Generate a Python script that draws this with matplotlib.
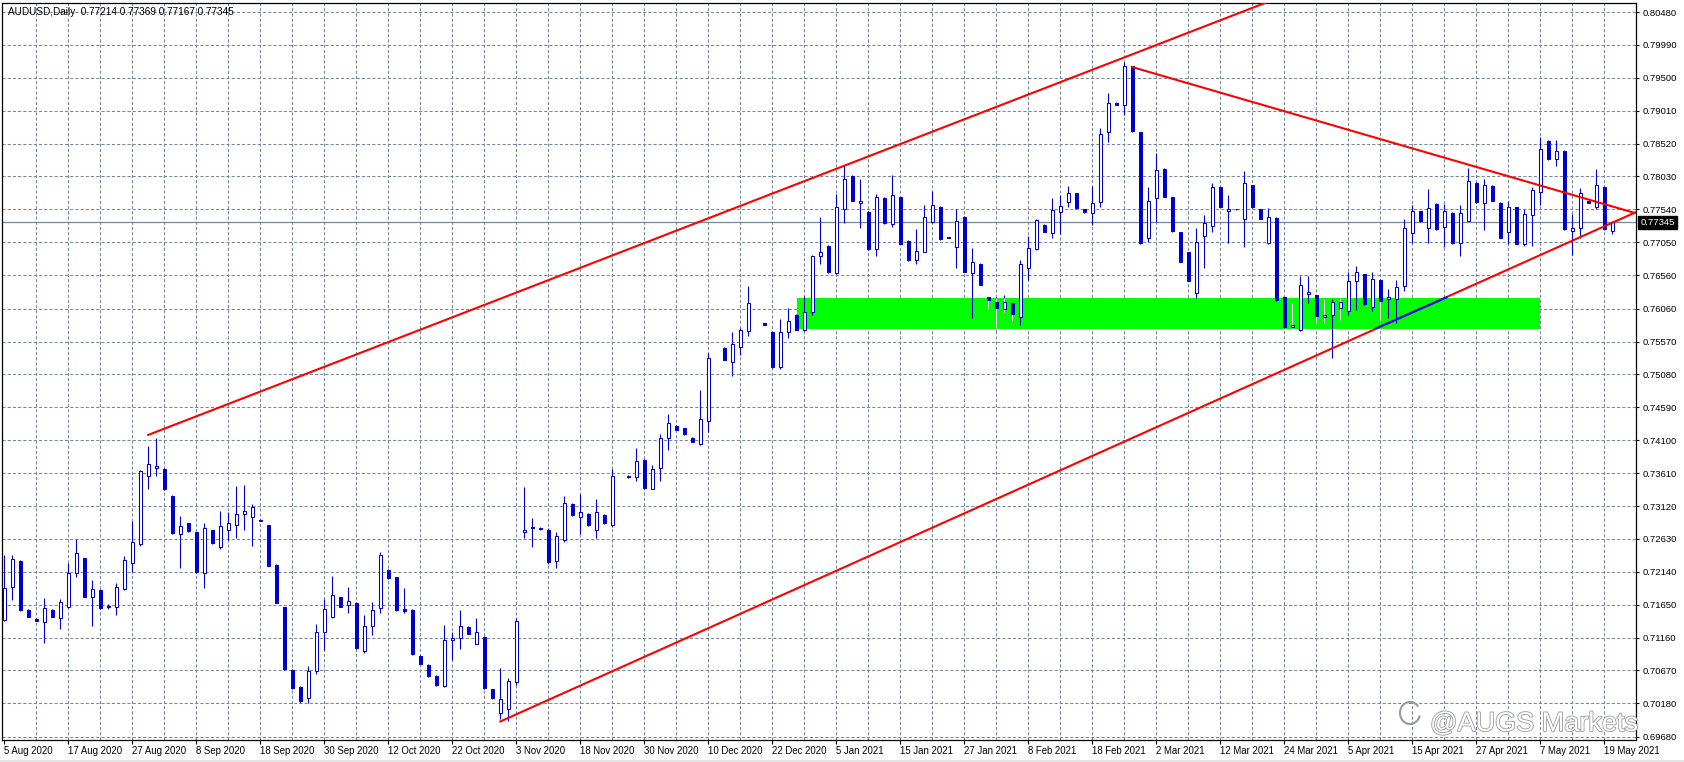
import matplotlib
matplotlib.use("Agg")
import matplotlib.pyplot as plt
import matplotlib.patheffects as pe
from matplotlib.patches import Rectangle, Arc
import numpy as np

# ==========================================
# Data: AUDUSD daily bars (index 0 = 5 Aug 2020), None = no visible bar
# ==========================================
opens = [0.7142, 0.7192, 0.7230, 0.7157, 0.7144, 0.7139, 0.7157, 0.7145, 0.7161, 0.7212,
         0.7234, 0.7177, 0.7187, 0.7161, 0.7162, 0.7189, 0.7227, 0.7256, 0.7357, 0.7368,
         0.7367, 0.7327, 0.7270, 0.7286, 0.7273, 0.7212, 0.7276, 0.7251, 0.7277, 0.7283,
         0.7300, 0.7295, 0.7291, 0.7283, 0.7224, 0.7161, 0.7068, 0.7043, 0.7026, 0.7066,
         0.7124, 0.7146, 0.7176, 0.7164, 0.7167, 0.7096, 0.7133, 0.7160, 0.7217, 0.7206,
         0.7159, 0.7157, 0.7089, 0.7075, 0.7059, 0.7044, 0.7112, 0.7115, 0.7132, 0.7107,
         0.7117, 0.7039, 0.7004, 0.7010, 0.7050, 0.7273, 0.7281, 0.7279, 0.7276, 0.7230,
         0.7261, 0.7315, 0.7295, 0.7300, 0.7276, 0.7299, 0.7284, None, 0.7357, 0.7356,
         0.7381, 0.7338, 0.7368, 0.7414, 0.7431, 0.7428, 0.7414, 0.7405, 0.7439, None,
         0.7548, 0.7527, 0.7549, 0.7573, None, 0.7584, 0.7571, 0.7519, 0.7571, 0.7597,
         0.7574, 0.7601, 0.7684, 0.7700, 0.7659, 0.7754, 0.7804, 0.7763, 0.7750, 0.7695,
         0.7771, 0.7732, 0.7772, 0.7707, 0.7678, 0.7691, 0.7735, 0.7758, 0.7713, 0.7698,
         0.7743, 0.7659, 0.7673, 0.7623, 0.7616, 0.7605, 0.7614, 0.7593, 0.7666, 0.7695,
         0.7731, 0.7719, 0.7750, 0.7765, 0.7778, 0.7754, 0.7748, 0.7765, 0.7869, 0.7913,
         0.7909, 0.7967, 0.7869, 0.7711, 0.7771, 0.7814, 0.7772, 0.7720, 0.7690, 0.7630,
         0.7715, 0.7729, 0.7787, 0.7751, 0.7754, 0.7739, 0.7790, 0.7754, 0.7704, 0.7741,
         0.7623, 0.7579, 0.7574, 0.7628, 0.7626, 0.7594, 0.7596, 0.7607, 0.7603, 0.7647,
         0.7657, 0.7608, 0.7649, 0.7620, 0.7620, 0.7640, 0.7719, 0.7751, 0.7727, 0.7762,
         0.7728, 0.7749, 0.7704, 0.7737, 0.7794, 0.7763, 0.7789, 0.7764, 0.7720, 0.7757,
         0.7702, 0.7745, 0.7780, 0.7856, 0.7829, 0.7841, 0.7722, 0.7727, 0.7766, 0.7757,
         0.7787, 0.77214]
highs = [0.7239, 0.7239, 0.7232, 0.7158, 0.7145, 0.7175, 0.7158, 0.7173, 0.7227, 0.7263,
         0.7235, 0.7202, 0.7188, 0.7166, 0.7197, 0.7238, 0.7290, 0.7365, 0.7402, 0.7413,
         0.7368, 0.7328, 0.7297, 0.7287, 0.7274, 0.7286, 0.7277, 0.7305, 0.7303, 0.7342,
         0.7343, 0.7315, 0.7292, 0.7284, 0.7225, 0.7162, 0.7069, 0.7044, 0.7074, 0.7136,
         0.7173, 0.7208, 0.7177, 0.7191, 0.7168, 0.7150, 0.7169, 0.7243, 0.7218, 0.7207,
         0.7190, 0.7158, 0.7090, 0.7076, 0.7060, 0.7135, 0.7124, 0.7157, 0.7133, 0.7145,
         0.7118, 0.7040, 0.7071, 0.7056, 0.7145, 0.7341, 0.7294, 0.7281, 0.7280, 0.7274,
         0.7327, 0.7316, 0.7330, 0.7301, 0.7323, 0.7300, 0.7367, None, 0.7358, 0.7399,
         0.7382, 0.7373, 0.7419, 0.7449, 0.7432, 0.7429, 0.7415, 0.7485, 0.7540, None,
         0.7549, 0.7572, 0.7578, 0.7640, None, 0.7585, 0.7572, 0.7590, 0.7607, 0.7598,
         0.7625, 0.7686, 0.7743, 0.7701, 0.7777, 0.7820, 0.7805, 0.7799, 0.7751, 0.7777,
         0.7772, 0.7805, 0.7773, 0.7708, 0.7725, 0.7761, 0.7781, 0.7759, 0.7713, 0.7754,
         0.7744, 0.7697, 0.7674, 0.7624, 0.7624, 0.7626, 0.7615, 0.7679, 0.7714, 0.7740,
         0.7732, 0.7771, 0.7775, 0.7789, 0.7779, 0.7755, 0.7789, 0.7876, 0.7928, 0.7914,
         0.7974, 0.7968, 0.7870, 0.7788, 0.7838, 0.7815, 0.7773, 0.7721, 0.7691, 0.7726,
         0.7746, 0.7793, 0.7788, 0.7775, 0.7755, 0.7811, 0.7791, 0.7755, 0.7756, 0.7742,
         0.7624, 0.7615, 0.7655, 0.7655, 0.7627, 0.7621, 0.7620, 0.7622, 0.7660, 0.7669,
         0.7658, 0.7660, 0.7650, 0.7635, 0.7649, 0.7739, 0.7761, 0.7752, 0.7784, 0.7763,
         0.7762, 0.7750, 0.7761, 0.7815, 0.7795, 0.7800, 0.7790, 0.7765, 0.7766, 0.7758,
         0.7755, 0.7787, 0.7862, 0.7857, 0.7857, 0.7842, 0.7747, 0.7786, 0.7767, 0.7814,
         0.7788, 0.77369]
lows = [0.7140, 0.7172, 0.7155, 0.7146, 0.7140, 0.7108, 0.7146, 0.7129, 0.7160, 0.7207,
        0.7176, 0.7134, 0.7159, 0.7159, 0.7149, 0.7187, 0.7214, 0.7253, 0.7337, 0.7357,
        0.7336, 0.7271, 0.7220, 0.7274, 0.7212, 0.7190, 0.7256, 0.7248, 0.7262, 0.7265,
        0.7276, 0.7253, 0.7289, 0.7222, 0.7167, 0.7068, 0.7040, 0.7018, 0.7018, 0.7062,
        0.7098, 0.7145, 0.7161, 0.7153, 0.7099, 0.7093, 0.7120, 0.7152, 0.7204, 0.7156,
        0.7152, 0.7090, 0.7076, 0.7058, 0.7044, 0.7043, 0.7083, 0.7099, 0.7121, 0.7106,
        0.7040, 0.7025, 0.6995, 0.6991, 0.7045, 0.7265, 0.7251, 0.7277, 0.7225, 0.7220,
        0.7258, 0.7297, 0.7270, 0.7282, 0.7265, 0.7285, 0.7281, None, 0.7354, 0.7350,
        0.7338, 0.7337, 0.7350, 0.7396, 0.7425, 0.7418, 0.7407, 0.7403, 0.7423, None,
        0.7529, 0.7506, 0.7537, 0.7566, None, 0.7581, 0.7518, 0.7516, 0.7563, 0.7574,
        0.7573, 0.7596, 0.7673, 0.7659, 0.7658, 0.7733, 0.7766, 0.7727, 0.7694, 0.7685,
        0.7732, 0.7728, 0.7702, 0.7677, 0.7672, 0.7690, 0.7734, 0.7709, 0.7711, 0.7667,
        0.7660, 0.7592, 0.7641, 0.7605, 0.7575, 0.7599, 0.7587, 0.7582, 0.7649, 0.7694,
        0.7720, 0.7712, 0.7717, 0.7758, 0.7755, 0.7749, 0.7730, 0.7757, 0.7855, 0.7909,
        0.7895, 0.7870, 0.7703, 0.7706, 0.7735, 0.7772, 0.7721, 0.7675, 0.7647, 0.7622,
        0.7667, 0.7721, 0.7757, 0.7704, 0.7753, 0.7698, 0.7756, 0.7739, 0.7703, 0.7618,
        0.7578, 0.7577, 0.7573, 0.7614, 0.7584, 0.7584, 0.7532, 0.7589, 0.7597, 0.7604,
        0.7612, 0.7602, 0.7587, 0.7592, 0.7584, 0.7633, 0.7704, 0.7735, 0.7704, 0.7724,
        0.7698, 0.7703, 0.7684, 0.7736, 0.7764, 0.7723, 0.7766, 0.7711, 0.7703, 0.7702,
        0.7700, 0.7700, 0.7760, 0.7828, 0.7819, 0.7724, 0.7686, 0.7712, 0.7763, 0.7755,
        0.7724, 0.77167]
closes = [0.7190, 0.7233, 0.7157, 0.7147, 0.7141, 0.7160, 0.7147, 0.7169, 0.7212, 0.7242,
          0.7177, 0.7189, 0.7160, 0.7163, 0.7192, 0.7232, 0.7258, 0.7364, 0.7374, 0.7371,
          0.7337, 0.7272, 0.7282, 0.7275, 0.7213, 0.7280, 0.7257, 0.7282, 0.7286, 0.7300,
          0.7304, 0.7310, 0.7290, 0.7223, 0.7168, 0.7069, 0.7041, 0.7022, 0.7066, 0.7124,
          0.7158, 0.7180, 0.7162, 0.7170, 0.7100, 0.7133, 0.7157, 0.7239, 0.7205, 0.7157,
          0.7156, 0.7091, 0.7077, 0.7059, 0.7045, 0.7112, 0.7115, 0.7134, 0.7122, 0.7125,
          0.7041, 0.7026, 0.7024, 0.7051, 0.7141, 0.7276, 0.7279, 0.7278, 0.7229, 0.7267,
          0.7316, 0.7298, 0.7303, 0.7283, 0.7303, 0.7286, 0.7357, None, 0.7355, 0.7379,
          0.7339, 0.7367, 0.7414, 0.7435, 0.7426, 0.7419, 0.7408, 0.7441, 0.7532, None,
          0.7530, 0.7554, 0.7574, 0.7614, None, 0.7582, 0.7519, 0.7571, 0.7587, 0.7575,
          0.7601, 0.7685, 0.7690, 0.7660, 0.7757, 0.7799, 0.7767, 0.7766, 0.7695, 0.7772,
          0.7733, 0.7776, 0.7703, 0.7678, 0.7692, 0.7742, 0.7760, 0.7710, 0.7712, 0.7736,
          0.7661, 0.7675, 0.7642, 0.7619, 0.7607, 0.7616, 0.7598, 0.7672, 0.7696, 0.7738,
          0.7721, 0.7753, 0.7759, 0.7778, 0.7756, 0.7750, 0.7764, 0.7867, 0.7912, 0.7910,
          0.7967, 0.7871, 0.7704, 0.7767, 0.7812, 0.7773, 0.7722, 0.7676, 0.7648, 0.7706,
          0.7733, 0.7787, 0.7758, 0.7754, 0.7754, 0.7794, 0.7757, 0.7740, 0.7743, 0.7619,
          0.7579, 0.7581, 0.7642, 0.7631, 0.7595, 0.7596, 0.7616, 0.7616, 0.7648, 0.7660,
          0.7613, 0.7650, 0.7617, 0.7623, 0.7638, 0.7726, 0.7752, 0.7736, 0.7756, 0.7725,
          0.7752, 0.7704, 0.7748, 0.7797, 0.7765, 0.7790, 0.7767, 0.7712, 0.7757, 0.7703,
          0.7747, 0.7783, 0.7844, 0.7829, 0.7841, 0.7725, 0.7727, 0.7779, 0.7764, 0.7790,
          0.7725, 0.77345]

date_labels = ["5 Aug 2020", "17 Aug 2020", "27 Aug 2020", "8 Sep 2020", "18 Sep 2020",
               "30 Sep 2020", "12 Oct 2020", "22 Oct 2020", "3 Nov 2020", "18 Nov 2020",
               "30 Nov 2020", "10 Dec 2020", "22 Dec 2020", "5 Jan 2021", "15 Jan 2021",
               "27 Jan 2021", "8 Feb 2021", "18 Feb 2021", "2 Mar 2021", "12 Mar 2021",
               "24 Mar 2021", "5 Apr 2021", "15 Apr 2021", "27 Apr 2021", "7 May 2021",
               "19 May 2021"]
date_label_bars = list(range(0, 201, 8))

price_ticks = [0.80480, 0.79990, 0.79500, 0.79010, 0.78520, 0.78030, 0.77540, 0.77050,
               0.76560, 0.76060, 0.75570, 0.75080, 0.74590, 0.74100, 0.73610, 0.73120,
               0.72630, 0.72140, 0.71650, 0.71160, 0.70670, 0.70180, 0.69680]

# trend lines: (bar, price) anchors; rays run on to the right edge
upper_channel = ([18, 137], [0.7418, 0.79666])
lower_channel = ([62, 166], [0.6991, 0.7547])
down_line = ([141, 204], [0.7966, 0.7748])
blue_segment = ([171.5, 180.3], [0.7577, 0.7623])

zone_bars = (99.1, 192.0)
zone_prices = (0.75758, 0.76224)
# bars whose wicks show up white inside the green zone (MT4 object drawing)
white_wick_bars = [123, 124, 125, 126, 161, 164, 165, 167, 172]

last_price = 0.77345
title = "AUDUSD,Daily  0.77214 0.77369 0.77167 0.77345"

CANDLE = "#0000CD"
GRID = "#778899"
FONT = "Liberation Sans"

W, H = 1684, 762
fig = plt.figure(figsize=(W / 100, H / 100), dpi=100)
fig.patch.set_facecolor("white")
ax = fig.add_axes([2 / W, 22 / H, 1634 / W, 737 / H])
ax.set_xlim(-0.29, 203.96)
ax.set_ylim(0.69634, 0.80615)

# grid
for v in price_ticks:
    ax.axhline(v, color=GRID, lw=0.75, ls=(0, (3, 2)), zorder=0)
for b in range(4, 204, 4):
    ax.axvline(b, color=GRID, lw=0.75, ls=(0, (3, 2)), zorder=0)

# support / resistance zone
zone = Rectangle((zone_bars[0], zone_prices[0]), zone_bars[1] - zone_bars[0],
                 zone_prices[1] - zone_prices[0], facecolor="#00FF00",
                 edgecolor="none", zorder=1)
ax.add_patch(zone)

# current price line
ax.axhline(last_price, color=GRID, lw=0.9, zorder=1)

# candles
for i in range(len(opens)):
    o, h, l, c = opens[i], highs[i], lows[i], closes[i]
    if o is None:
        continue
    ax.vlines(i, l, h, color=CANDLE, lw=0.8, zorder=3)
    if i in white_wick_bars:
        wl = ax.vlines(i, max(l, zone_prices[0]), min(h, zone_prices[1]),
                       color="white", lw=0.8, zorder=3.5)
    bull = c >= o
    tiny = abs(c - o) < 0.00006
    edge = "white" if (i in white_wick_bars and bull and tiny) else CANDLE
    ax.bar(i, abs(c - o), bottom=min(o, c), width=0.42,
           facecolor="white" if bull else CANDLE, edgecolor=edge,
           linewidth=0.75, zorder=4)


def ray(anchor, x_end=210):
    xs, ys = anchor
    slope = (ys[1] - ys[0]) / (xs[1] - xs[0])
    return [xs[0], x_end], [ys[0], ys[0] + slope * (x_end - xs[0])]


for line in (upper_channel, lower_channel):
    xs, ys = ray(line)
    ax.plot(xs, ys, color="red", lw=1.5, zorder=5)
xs, ys = down_line
ax.plot(xs, ys, color="red", lw=1.5, zorder=5)
ax.plot(blue_segment[0], blue_segment[1], color="#1010FF", lw=1.5, zorder=6)

# axes styling
for side in ("left", "top", "right", "bottom"):
    ax.spines[side].set_color("black")
    ax.spines[side].set_linewidth(0.9)

ax.yaxis.tick_right()
ax.set_yticks(price_ticks)
ax.set_yticklabels([f"{v:.5f}" for v in price_ticks])
ax.tick_params(axis="y", length=2.5, width=0.8, pad=2.5, labelsize=6.8, colors="black")
for lbl in ax.get_yticklabels():
    lbl.set_fontfamily(FONT)

ax.set_xticks(date_label_bars)
ax.set_xticklabels(date_labels)
ax.tick_params(axis="x", length=3, width=0.8, pad=1.0, labelsize=6.9)
for lbl in ax.get_xticklabels():
    lbl.set_fontfamily(FONT)
    lbl.set_horizontalalignment("left")

# last price box on the axis
ax.annotate(f"{last_price:.5f}", xy=(1.0, last_price), xycoords=("axes fraction", "data"),
            xytext=(3, 0), textcoords="offset points", va="center", ha="left",
            fontsize=6.8, family=FONT, color="white",
            bbox=dict(boxstyle="square,pad=0.25", facecolor="black", edgecolor="black"),
            zorder=10, annotation_clip=False)

# title
fig.text(8 / W, 1 - 12 / H, title, fontsize=7.2, family=FONT, color="black",
         va="center", ha="left")

# watermark (kept inside the plot so it does not run over the price labels)
fig.text(1430 / W, 1 - 731 / H, "@AUGS Markets", fontsize=19.5, family=FONT,
         color="white", va="baseline", ha="left",
         path_effects=[pe.withStroke(linewidth=1.2, foreground="#9a9a9a")])
fig.patches.append(Arc((1410 / W, 1 - 713 / H), 20 / W, 22 / H, theta1=60, theta2=330,
                       transform=fig.transFigure, color="#9a9a9a", lw=1.5))
fig.patches.append(Rectangle((0, 0), 1, 2 / H, transform=fig.transFigure,
                             facecolor="#e4e4e4", edgecolor="none"))

fig.savefig("out.png", dpi=100)
